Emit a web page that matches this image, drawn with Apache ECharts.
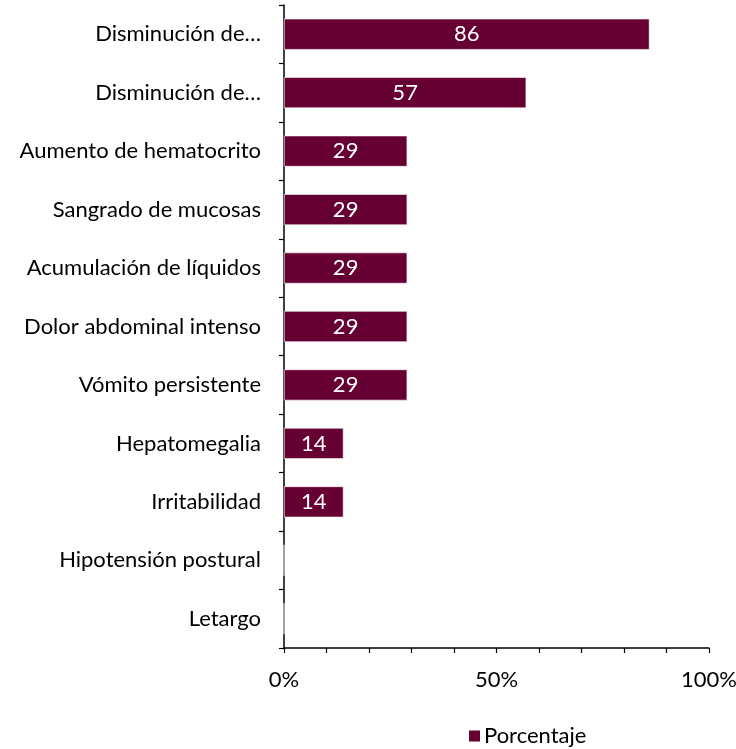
<!DOCTYPE html>
<html><head><meta charset="utf-8">
<script src="https://cdn.jsdelivr.net/npm/echarts@6/dist/echarts.min.js"></script>
<style>html,body{margin:0;padding:0;background:#fff}#c{width:736px;height:749px}</style>
</head><body><div id="c"></div>
<script>
const categories = ["Disminución de…","Disminución de…","Aumento de hematocrito","Sangrado de mucosas","Acumulación de líquidos","Dolor abdominal intenso","Vómito persistente","Hepatomegalia","Irritabilidad","Hipotensión postural","Letargo"];
const values = [86,57,29,29,29,29,29,14,14,0,0];
const seriesName = "Porcentaje";
const xTickLabels = {0:"0%",50:"50%",100:"100%"};
const FONT = "Lato";
const FS = 22;
const chart = echarts.init(document.getElementById('c'));
chart.setOption({
  animation:false,
  textStyle:{fontFamily:FONT},
  grid:{left:284,right:27,top:5,bottom:101,containLabel:false,outerBoundsMode:'none'},
  legend:{data:[seriesName],left:467,top:725,itemWidth:13,itemHeight:13,itemGap:6,padding:0,
    icon:'rect',textStyle:{fontFamily:FONT,fontSize:FS,color:'#000',padding:[0,0,0,-2]}},
  xAxis:{type:'value',min:0,max:100,interval:10,
    axisLine:{show:true,lineStyle:{color:'#000',width:1.5}},
    axisTick:{show:true,length:5,lineStyle:{color:'#000',width:1.2}},
    splitLine:{show:false},
    axisLabel:{fontFamily:FONT,fontSize:FS,color:'#000',margin:21,
      formatter:v=>xTickLabels[v]!==undefined?xTickLabels[v]:''}},
  yAxis:{type:'category',data:categories,inverse:true,
    axisLine:{show:true,lineStyle:{color:'#000',width:1.5}},
    axisTick:{show:true,length:5,lineStyle:{color:'#000',width:1.2}},
    axisLabel:{fontFamily:FONT,fontSize:FS,color:'#000',margin:23}},
  series:[{name:seriesName,type:'bar',data:values,barCategoryGap:'47%',
    itemStyle:{color:'#660033',borderColor:'#fff',borderWidth:0.6},
    label:{show:true,position:'inside',color:'#fff',fontFamily:FONT,fontSize:FS,
      formatter:p=>p.value>0?p.value:''}}]
});
</script></body></html>
